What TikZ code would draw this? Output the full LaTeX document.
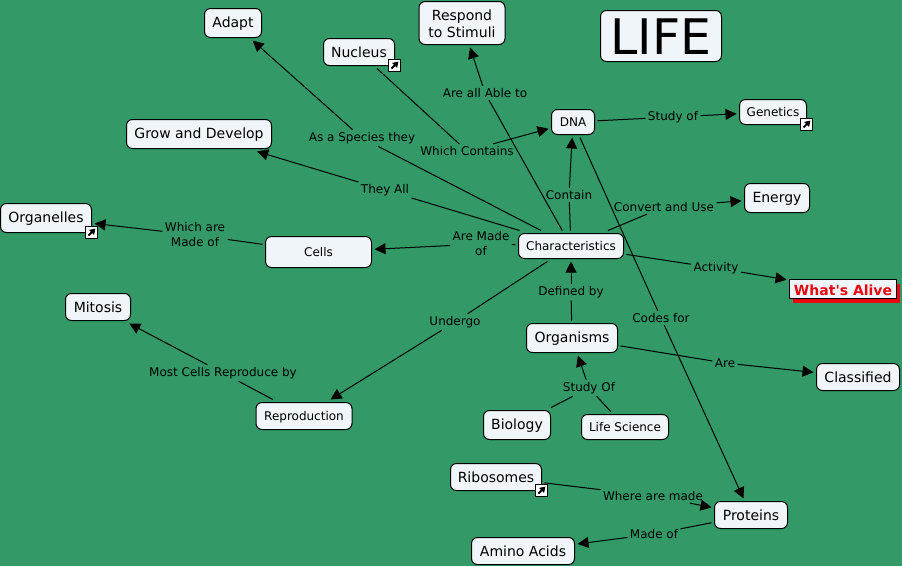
\documentclass[tikz,border=0pt]{standalone}
\usepackage{fontspec}
\usepackage{xcolor}
\setmainfont{DejaVu Sans}
\newfontfamily\alivefont{DejaVu Sans}
\usetikzlibrary{shapes,arrows.meta,shadows}
\definecolor{mapgreen}{RGB}{51,153,102}
\definecolor{boxfill}{RGB}{239,245,248}
\definecolor{alivered}{RGB}{232,8,16}
\tikzstyle{concept} = [rectangle, rounded corners=6pt, draw, fill=boxfill, align=center, inner sep=0pt, outer sep=3pt, text height=11pt, text depth=2pt, minimum height=29pt, font=\fontsize{14pt}{17pt}\selectfont]
\tikzstyle{lowconcept} = [concept, text height=12pt, text depth=1pt, minimum height=27pt]
\tikzstyle{smallconcept} = [concept, text height=10pt, text depth=1.5pt, minimum height=25pt, font=\fontsize{12pt}{15pt}\selectfont]
\tikzstyle{linkword} = [align=center, inner sep=2pt, yshift=-1pt, font=\fontsize{12pt}{15pt}\selectfont]
\tikzstyle{arrow} = [-{Triangle[length=11pt,width=11pt]}]
\tikzstyle{linkicon} = [rectangle, draw, fill=white, minimum size=12pt, inner sep=0pt, xshift=-3pt, yshift=3pt,
    path picture={\draw [line width=1.8pt,-{Triangle[length=5.5pt,width=6.5pt]}] (path picture bounding box.center) ++(-3pt,-3pt) -- ++(7pt,7pt);}]

\begin{document}
\begin{tikzpicture}[x=1pt,y=1pt,line width=1pt]
    \fill [mapgreen] (0,0) rectangle (902,-566);

    % Concepts
    \node [smallconcept, minimum width=105pt] (chars) at (571,-246) {Characteristics};
    \node [smallconcept, above of=chars, node distance=124pt, xshift=2pt, minimum width=43pt] (dna) {DNA};
    \node [smallconcept, right of=dna, node distance=200pt, yshift=10pt, minimum width=67pt] (genetics) {Genetics};
    \node [concept, right of=chars, node distance=206pt, yshift=48pt, minimum width=65pt] (energy) {Energy};
    \node [rectangle, draw, fill=boxfill, text=alivered, outer sep=3pt, inner sep=0pt, minimum width=107pt, minimum height=18.5pt,
        text height=12pt, text depth=0pt, font=\fontsize{14pt}{17pt}\alivefont\bfseries,
        drop shadow={shadow xshift=3.5pt, shadow yshift=-4.5pt, fill=alivered, opacity=1},
        right of=chars, node distance=272pt, yshift=-43pt] (alive) {What's Alive};
    \node [concept, below of=chars, node distance=92pt, xshift=1pt, minimum width=91pt] (organisms) {Organisms};
    \node [lowconcept, right of=organisms, node distance=286pt, yshift=-39pt, minimum width=83pt] (classified) {Classified};
    \node [concept, below of=organisms, node distance=87pt, xshift=-55pt, minimum width=67pt] (biology) {Biology};
    \node [smallconcept, right of=biology, node distance=108pt, yshift=-2pt, minimum width=87pt] (lifescience) {Life Science};
    \node [lowconcept, below of=biology, node distance=52pt, xshift=-21pt, minimum width=91pt] (ribosomes) {Ribosomes};
    \node [lowconcept, right of=ribosomes, node distance=255pt, yshift=-38pt, minimum width=73pt] (proteins) {Proteins};
    \node [lowconcept, below of=ribosomes, node distance=74pt, xshift=27pt, minimum width=103pt] (amino) {Amino Acids};
    \node [smallconcept, left of=chars, node distance=252.5pt, yshift=-6pt, minimum width=106pt, minimum height=31pt] (cells) {Cells};
    \node [concept, left of=cells, node distance=272.5pt, yshift=34pt, minimum width=91pt] (organelles) {Organelles};
    \node [concept, above of=cells, node distance=118pt, xshift=-119.5pt, minimum width=145pt] (grow) {Grow and Develop};
    \node [concept, above of=grow, node distance=111pt, xshift=34pt, minimum width=57pt] (adapt) {Adapt};
    \node [lowconcept, right of=adapt, node distance=126pt, yshift=-29pt, minimum width=71pt] (nucleus) {Nucleus};
    \node [concept, right of=nucleus, node distance=103pt, yshift=29pt, minimum width=86pt, minimum height=43pt, text height=31pt, text depth=3pt] (respond) {Respond\\to Stimuli};
    \node [concept, right of=respond, node distance=199pt, yshift=-13pt, minimum width=121pt, minimum height=51pt, text height=36pt, text depth=0pt, font=\fontsize{49pt}{50pt}\selectfont] (life) {LIFE};
    \node [smallconcept, below of=cells, node distance=164pt, xshift=-14.5pt, minimum width=96pt, minimum height=27pt] (reproduction) {Reproduction};
    \node [lowconcept, left of=reproduction, node distance=206pt, yshift=109pt, minimum width=65pt] (mitosis) {Mitosis};

    % Shortcut marks
    \node [linkicon] (nucleusicon) at (nucleus.south east) {};
    \node [linkicon] (geneticsicon) at (genetics.south east) {};
    \node [linkicon] (organellesicon) at (organelles.south east) {};
    \node [linkicon] (ribosomesicon) at (ribosomes.south east) {};

    % Linking phrases
    \node [linkword, left of=chars, node distance=209pt, yshift=109pt] (species) {As a Species they};
    \node [linkword, below of=nucleus, node distance=98pt, xshift=108pt] (contains) {Which Contains};
    \node [linkword, left of=chars, node distance=86pt, yshift=154pt] (able) {Are all Able to};
    \node [linkword, left of=chars, node distance=186pt, yshift=57pt] (theyall) {They All};
    \node [linkword, left of=cells, node distance=123.5pt, yshift=18pt] (whichare) {Which are\\Made of};
    \node [linkword, left of=chars, node distance=90pt, yshift=3pt] (madeofcells) {Are Made\\of};
    \node [linkword, above of=chars, node distance=52pt, xshift=-2pt] (contain) {Contain};
    \node [linkword, right of=chars, node distance=93pt, yshift=40pt] (convert) {Convert and Use};
    \node [linkword, right of=dna, node distance=100pt, yshift=6pt] (studyofdna) {Study of};
    \node [linkword, right of=chars, node distance=145pt, yshift=-21pt] (activity) {Activity};
    \node [linkword, above of=organisms, node distance=47pt, xshift=-1pt] (definedby) {Defined by};
    \node [linkword, left of=chars, node distance=116pt, yshift=-75pt] (undergo) {Undergo};
    \node [linkword, below of=dna, node distance=195pt, xshift=88pt] (codes) {Codes for};
    \node [linkword, left of=reproduction, node distance=81pt, yshift=44pt] (reproduceby) {Most Cells Reproduce by};
    \node [linkword, right of=organisms, node distance=153pt, yshift=-24pt] (are) {Are};
    \node [linkword, right of=biology, node distance=72pt, yshift=38pt] (studyoforg) {Study Of};
    \node [linkword, right of=ribosomes, node distance=157pt, yshift=-18pt] (wheremade) {Where are made};
    \node [linkword, left of=proteins, node distance=97pt, yshift=-18pt] (madeof) {Made of};

    % Links
    \draw (chars) -- (species);
    \draw [arrow] (species) -- (adapt);
    \draw (nucleus) -- (contains);
    \draw [arrow] (contains) -- (dna);
    \draw (chars) -- (able);
    \draw [arrow] (able) -- (respond);
    \draw (chars) -- (theyall);
    \draw [arrow] (theyall) -- (grow);
    \draw (chars) -- (madeofcells);
    \draw [arrow] (madeofcells) -- (cells);
    \draw (cells) -- (whichare);
    \draw [arrow] (whichare) -- (organelles);
    \draw (chars) -- (contain);
    \draw [arrow] (contain) -- (dna);
    \draw (chars) -- (convert);
    \draw [arrow] (convert) -- (energy);
    \draw (dna) -- (studyofdna);
    \draw [arrow] (studyofdna) -- (genetics);
    \draw (chars) -- (activity);
    \draw [arrow] (activity) -- (alive);
    \draw (organisms) -- (definedby);
    \draw [arrow] (definedby) -- (chars);
    \draw (chars) -- (undergo);
    \draw [arrow] (undergo) -- (reproduction);
    \draw (dna) -- (codes);
    \draw [arrow] (codes) -- (proteins);
    \draw (reproduction) -- (reproduceby);
    \draw [arrow] (reproduceby) -- (mitosis);
    \draw (organisms) -- (are);
    \draw [arrow] (are) -- (classified);
    \draw (biology) -- (studyoforg);
    \draw (lifescience) -- (studyoforg);
    \draw [arrow] (studyoforg) -- (organisms);
    \draw (ribosomes) -- (wheremade);
    \draw [arrow] (wheremade) -- (proteins);
    \draw (proteins) -- (madeof);
    \draw [arrow] (madeof) -- (amino);
\end{tikzpicture}
\end{document}
